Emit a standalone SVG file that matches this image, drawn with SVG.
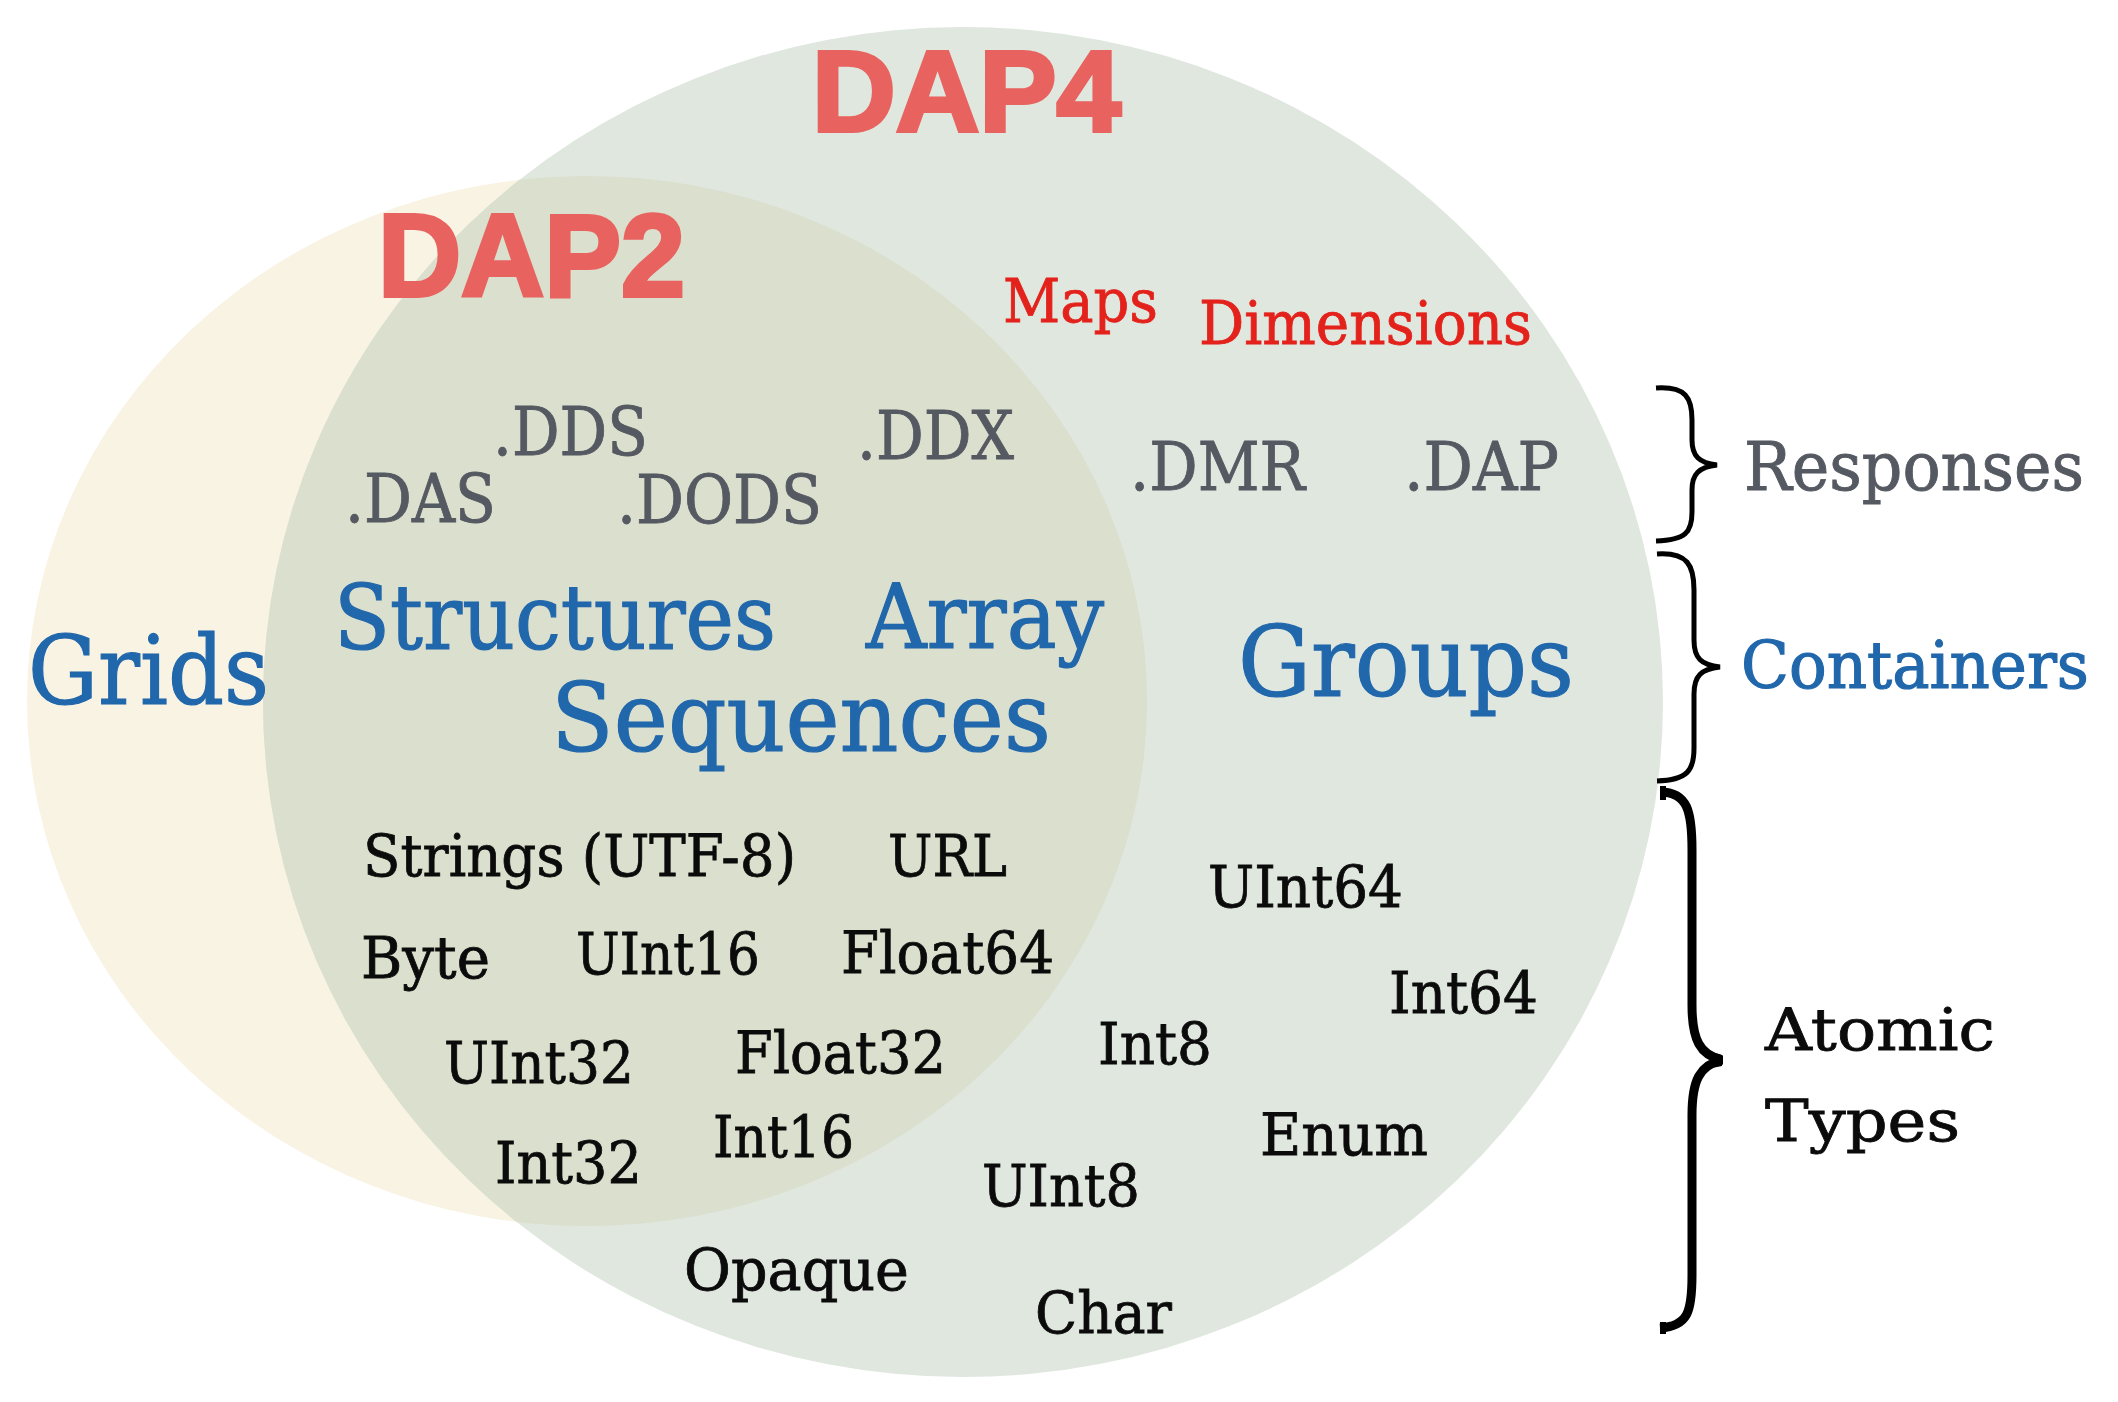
<svg xmlns="http://www.w3.org/2000/svg" width="2118" height="1402" viewBox="0 0 2118 1402">
<defs>
<clipPath id="clipDap4"><ellipse cx="963" cy="702" rx="700" ry="675"/></clipPath>
<style>
.s{font-family:"DejaVu Serif","Liberation Serif",serif;}
.grey{fill:#555961;stroke:#555961;stroke-width:0.9;font-size:68px;}
.red{fill:#E3221B;stroke:#E3221B;stroke-width:0.8;font-size:59px;}
.blue{fill:#2167AB;stroke:#2167AB;stroke-width:1.2;}
.blk{fill:#0b0b0b;stroke:#0b0b0b;stroke-width:0.8;font-size:58px;}
.title{font-family:"Liberation Sans","DejaVu Sans",sans-serif;font-weight:bold;fill:#E8635F;stroke:#E8635F;stroke-width:4;stroke-linejoin:miter;}
.brace{fill:none;stroke:#000;stroke-width:5;stroke-linecap:butt;}
</style>
</defs>
<rect width="2118" height="1402" fill="#FFFFFF"/>
<g id="sets">
<ellipse id="dap2-set" cx="587" cy="701" rx="560" ry="525" fill="#F9F3E3"/>
<ellipse id="dap4-set" cx="963" cy="702" rx="700" ry="675" fill="#DFE7DF"/>
<ellipse id="overlap" cx="587" cy="701" rx="560" ry="525" fill="#DBDFCD" clip-path="url(#clipDap4)"/>
</g>
<g id="titles">
<text id="dap4" class="title" x="812" y="131" font-size="115" textLength="309" lengthAdjust="spacingAndGlyphs">DAP4</text>
<text id="dap2" class="title" x="378" y="296" font-size="116" textLength="307" lengthAdjust="spacingAndGlyphs">DAP2</text>
</g>
<g id="dap4-only" class="s">
<text class="red" x="1003" y="322" textLength="155" lengthAdjust="spacingAndGlyphs">Maps</text>
<text class="red" x="1199" y="344" textLength="333" lengthAdjust="spacingAndGlyphs">Dimensions</text>
</g>
<g id="responses" class="s">
<text class="grey" x="493" y="455" textLength="155" lengthAdjust="spacingAndGlyphs">.DDS</text>
<text class="grey" x="857" y="459" textLength="157" lengthAdjust="spacingAndGlyphs">.DDX</text>
<text class="grey" x="345" y="522" textLength="151" lengthAdjust="spacingAndGlyphs">.DAS</text>
<text class="grey" x="617" y="523" textLength="205" lengthAdjust="spacingAndGlyphs">.DODS</text>
<text class="grey" x="1130" y="490" textLength="175" lengthAdjust="spacingAndGlyphs">.DMR</text>
<text class="grey" x="1404" y="490" textLength="155" lengthAdjust="spacingAndGlyphs">.DAP</text>
</g>
<g id="containers" class="s blue">
<text x="28" y="704" font-size="95" textLength="241" lengthAdjust="spacingAndGlyphs">Grids</text>
<text x="334" y="649" font-size="89" textLength="442" lengthAdjust="spacingAndGlyphs">Structures</text>
<text x="866" y="648" font-size="89" textLength="238" lengthAdjust="spacingAndGlyphs">Array</text>
<text x="551" y="751" font-size="96" textLength="500" lengthAdjust="spacingAndGlyphs">Sequences</text>
<text x="1238" y="696" font-size="97" textLength="336" lengthAdjust="spacingAndGlyphs">Groups</text>
</g>
<g id="atomic" class="s blk">
<text x="363" y="876" textLength="433" lengthAdjust="spacingAndGlyphs">Strings (UTF-8)</text>
<text x="888" y="876" textLength="119" lengthAdjust="spacingAndGlyphs">URL</text>
<text x="361" y="978" textLength="129" lengthAdjust="spacingAndGlyphs">Byte</text>
<text x="576" y="974" textLength="184" lengthAdjust="spacingAndGlyphs">UInt16</text>
<text x="841" y="973" textLength="213" lengthAdjust="spacingAndGlyphs">Float64</text>
<text x="444" y="1083" textLength="190" lengthAdjust="spacingAndGlyphs">UInt32</text>
<text x="735" y="1073" textLength="211" lengthAdjust="spacingAndGlyphs">Float32</text>
<text x="713" y="1157" textLength="141" lengthAdjust="spacingAndGlyphs">Int16</text>
<text x="495" y="1183" textLength="147" lengthAdjust="spacingAndGlyphs">Int32</text>
<text x="982" y="1206" textLength="158" lengthAdjust="spacingAndGlyphs">UInt8</text>
<text x="684" y="1290" textLength="225" lengthAdjust="spacingAndGlyphs">Opaque</text>
<text x="1035" y="1333" textLength="137" lengthAdjust="spacingAndGlyphs">Char</text>
<text x="1208" y="907" textLength="195" lengthAdjust="spacingAndGlyphs">UInt64</text>
<text x="1389" y="1013" textLength="149" lengthAdjust="spacingAndGlyphs">Int64</text>
<text x="1098" y="1064" textLength="114" lengthAdjust="spacingAndGlyphs">Int8</text>
<text x="1260" y="1155" textLength="168" lengthAdjust="spacingAndGlyphs">Enum</text>
</g>
<g id="braces">
<path id="brace-responses" class="brace" d="M1656 388 C1686 386 1692 398 1692 420 L1692 440 C1692 456 1699 463 1717 465 C1699 467 1692 474 1692 490 L1692 512 C1692 532 1686 540 1656 541"/>
<path id="brace-containers" class="brace" d="M1657 554 C1688 552 1694 566 1694 590 L1694 640 C1694 658 1701 665 1720 667 C1701 669 1694 676 1694 694 L1694 748 C1694 770 1688 780 1657 781"/>
<path id="brace-atomic" class="brace" style="stroke-width:9" d="M1660 792 C1688 792 1692 812 1692 850 L1692 1005 C1692 1040 1700 1055 1722 1060 C1700 1065 1692 1080 1692 1115 L1692 1275 C1692 1312 1688 1326 1660 1328"/>
<path fill="#000" d="M1660 786 L1666 786 L1666 800 L1660 800 Z M1660 1322 L1666 1322 L1666 1334 L1660 1334 Z M1712 1052 L1722 1055 L1722 1066 L1712 1068 Z"/>
</g>
<g id="legend" class="s">
<text x="1744" y="490" class="grey" textLength="340" lengthAdjust="spacingAndGlyphs">Responses</text>
<text x="1741" y="688" class="blue" font-size="66" textLength="348" lengthAdjust="spacingAndGlyphs">Containers</text>
<text x="1765" y="1050" class="blk" font-size="68" textLength="230" lengthAdjust="spacingAndGlyphs">Atomic</text>
<text x="1765" y="1141" class="blk" font-size="66" textLength="195" lengthAdjust="spacingAndGlyphs">Types</text>
</g>
</svg>
